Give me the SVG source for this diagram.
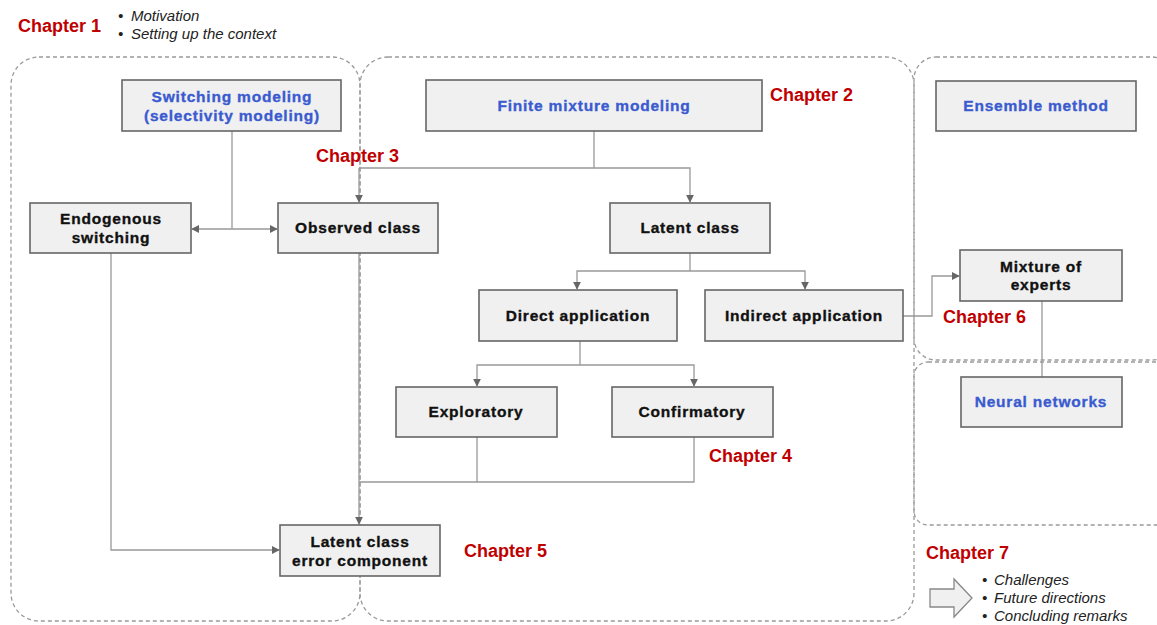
<svg xmlns="http://www.w3.org/2000/svg" width="1157" height="625" viewBox="0 0 1157 625">
  <defs>
    <marker id="arr" viewBox="0 0 10 10" refX="9" refY="5" markerWidth="8" markerHeight="8" markerUnits="userSpaceOnUse" orient="auto">
      <path d="M0,0 L10,5 L0,10 z" fill="#666"/>
    </marker>
    <style>
      .frame{fill:none;stroke:#9a9a9a;stroke-width:1.3;stroke-dasharray:4 3}
      .box{fill:#f0f0f0;stroke:#666;stroke-width:1.6}
      .lbl{font-family:"Liberation Sans",Arial,sans-serif;font-weight:bold;font-size:15.5px;fill:#111;stroke:#111;stroke-width:0.35;text-anchor:middle;letter-spacing:0.8px}
      .blue{fill:#3a5bd0;stroke:#3a5bd0}
      .ch{font-family:"Liberation Sans",Arial,sans-serif;font-weight:bold;font-size:18px;fill:#c00000}
      .it{font-family:"Liberation Sans",Arial,sans-serif;font-style:italic;font-size:15px;fill:#222}
      .wire{fill:none;stroke:#999;stroke-width:1.3}
      .wire.a{marker-end:url(#arr)}
    </style>
  </defs>
  <rect width="1157" height="625" fill="#fff"/>

  <!-- dashed chapter regions -->
  <g id="regions">
    <rect class="frame" x="11" y="57" width="349" height="564" rx="28"/>
    <rect class="frame" x="360" y="57" width="554" height="564" rx="28"/>
    <rect class="frame" x="914" y="57" width="260" height="303" rx="22"/>
    <rect class="frame" x="914" y="362" width="260" height="163" rx="14"/>
  </g>

  <!-- connectors -->
  <g id="connectors">
    <path class="wire" d="M232,131 V229"/>
    <path class="wire a" d="M232,229 H192"/>
    <path class="wire a" d="M232,229 H277"/>
    <path class="wire" d="M594,131 V168 H359"/>
    <path class="wire a" d="M359,168 V202"/>
    <path class="wire a" d="M594,168 H690 V202"/>
    <path class="wire" d="M690,253 V271"/>
    <path class="wire a" d="M690,271 H577 V289"/>
    <path class="wire a" d="M690,271 H805 V289"/>
    <path class="wire" d="M580,341 V365"/>
    <path class="wire a" d="M580,365 H477 V386"/>
    <path class="wire a" d="M580,365 H694 V386"/>
    <path class="wire a" d="M359,253 V524"/>
    <path class="wire" d="M477,437 V482 H359"/>
    <path class="wire" d="M694,437 V482 H477"/>
    <path class="wire a" d="M111,253 V550 H279"/>
    <path class="wire a" d="M903,316 H932 V276 H959"/>
    <path class="wire" d="M1042,301 V377"/>
  </g>

  <!-- nodes -->
  <g id="n-switching">
    <rect class="box" x="122" y="80" width="219" height="51"/>
    <text class="lbl blue" x="232" y="102">Switching modeling</text>
    <text class="lbl blue" x="232" y="121">(selectivity modeling)</text>
  </g>
  <g id="n-finite">
    <rect class="box" x="426" y="80" width="336" height="51"/>
    <text class="lbl blue" x="594" y="111">Finite mixture modeling</text>
  </g>
  <g id="n-ensemble">
    <rect class="box" x="936" y="81" width="200" height="50"/>
    <text class="lbl blue" x="1036" y="111">Ensemble method</text>
  </g>
  <g id="n-endogenous">
    <rect class="box" x="30" y="203" width="161" height="50"/>
    <text class="lbl" x="111" y="224">Endogenous</text>
    <text class="lbl" x="111" y="243">switching</text>
  </g>
  <g id="n-observed">
    <rect class="box" x="278" y="203" width="160" height="50"/>
    <text class="lbl" x="358" y="233">Observed class</text>
  </g>
  <g id="n-latent">
    <rect class="box" x="610" y="203" width="160" height="50"/>
    <text class="lbl" x="690" y="233">Latent class</text>
  </g>
  <g id="n-direct">
    <rect class="box" x="479" y="290" width="198" height="51"/>
    <text class="lbl" x="578" y="321">Direct application</text>
  </g>
  <g id="n-indirect">
    <rect class="box" x="705" y="290" width="198" height="51"/>
    <text class="lbl" x="804" y="321">Indirect application</text>
  </g>
  <g id="n-experts">
    <rect class="box" x="960" y="250" width="162" height="51"/>
    <text class="lbl" x="1041" y="272">Mixture of</text>
    <text class="lbl" x="1041" y="290">experts</text>
  </g>
  <g id="n-exploratory">
    <rect class="box" x="396" y="387" width="161" height="50"/>
    <text class="lbl" x="476" y="417">Exploratory</text>
  </g>
  <g id="n-confirmatory">
    <rect class="box" x="612" y="387" width="161" height="50"/>
    <text class="lbl" x="692" y="417">Confirmatory</text>
  </g>
  <g id="n-neural">
    <rect class="box" x="961" y="377" width="161" height="50"/>
    <text class="lbl blue" x="1041" y="407">Neural networks</text>
  </g>
  <g id="n-lcec">
    <rect class="box" x="280" y="525" width="160" height="51"/>
    <text class="lbl" x="360" y="547">Latent class</text>
    <text class="lbl" x="360" y="566">error component</text>
  </g>

  <!-- chapter labels -->
  <g id="chapters">
    <text class="ch" x="18" y="32">Chapter 1</text>
    <text class="ch" x="770" y="101">Chapter 2</text>
    <text class="ch" x="316" y="162">Chapter 3</text>
    <text class="ch" x="709" y="462">Chapter 4</text>
    <text class="ch" x="464" y="557">Chapter 5</text>
    <text class="ch" x="943" y="323">Chapter 6</text>
    <text class="ch" x="926" y="559">Chapter 7</text>
  </g>

  <!-- chapter notes -->
  <g id="notes">
    <text class="it" x="118" y="21">•</text>
    <text class="it" x="131" y="21">Motivation</text>
    <text class="it" x="118" y="39">•</text>
    <text class="it" x="131" y="39">Setting up the context</text>
    <path d="M930,589 H954 V579 L972,598 L954,617 V607 H930 Z" fill="#f0f0f0" stroke="#888" stroke-width="1.3"/>
    <text class="it" x="982" y="585">•</text>
    <text class="it" x="994" y="585">Challenges</text>
    <text class="it" x="982" y="603">•</text>
    <text class="it" x="994" y="603">Future directions</text>
    <text class="it" x="982" y="621">•</text>
    <text class="it" x="994" y="621">Concluding remarks</text>
  </g>
</svg>
